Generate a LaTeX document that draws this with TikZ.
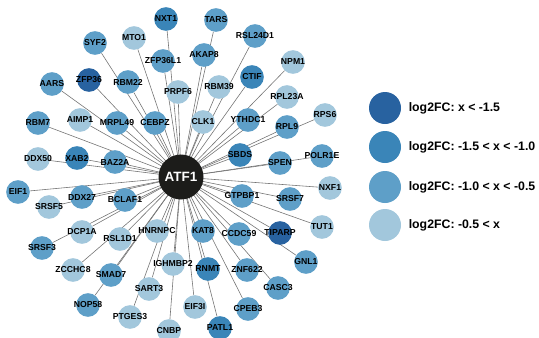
\documentclass[tikz,border=0pt]{standalone}
\usepackage{fontspec}
\setmainfont{Liberation Sans}
\usepackage{xcolor}
\usepackage{tikz}
\usetikzlibrary{positioning, backgrounds}

\definecolor{lvA}{HTML}{2862A0}
\definecolor{lvB}{HTML}{3A85B8}
\definecolor{lvC}{HTML}{5E9FC8}
\definecolor{lvD}{HTML}{A2C7DC}
\definecolor{hubfill}{HTML}{1C1C1A}

\tikzset{
  gene/.style={circle, inner sep=0pt, minimum size=7.1mm, draw=none,
               label={[genetext]center:#1}},
  genetext/.style={inner sep=0pt, text=black,
                   font=\bfseries\fontsize{7.4}{8}\selectfont},
  hub/.style={circle, inner sep=0pt, minimum size=13.5mm, fill=hubfill,
              text=white, font=\bfseries\fontsize{11.5}{12}\selectfont},
  legdot/.style={circle, inner sep=0pt, minimum size=9.6mm},
  legtext/.style={inner sep=0pt, anchor=west,
                  font=\bfseries\fontsize{10.5}{12}\selectfont},
  spoke/.style={draw=black!55, line width=0.5pt},
}

\begin{document}
\begin{tikzpicture}[x=0.03cm, y=-0.03cm]
  \useasboundingbox (0,0) rectangle (539,337);

  % centre
  \node[hub] (ATF1) at (181,177) {ATF1};

  % top
  \node[gene=NXT1, fill=lvB] (NXT1) at (166,19) {};
  \node[gene=TARS, fill=lvC] (TARS) at (216,20) {};
  \node[gene=SYF2, fill=lvC] (SYF2) at (95,43) {};
  \node[gene=MTO1, fill=lvD] (MTO1) at (134,38) {};
  \node[gene=RSL24D1, fill=lvC] (RSL24D1) at (255,36) {};
  \node[gene=AKAP8, fill=lvC] (AKAP8) at (204,55) {};
  \node[gene=ZFP36L1, fill=lvC] (ZFP36L1) at (163,61) {};
  \node[gene=NPM1, fill=lvD] (NPM1) at (293,62) {};
  \node[gene=CTIF, fill=lvB] (CTIF) at (252,77) {};
  \node[gene=AARS, fill=lvC] (AARS) at (52,84) {};
  \node[gene=ZFP36, fill=lvA] (ZFP36) at (89,80) {};
  \node[gene=RBM22, fill=lvC] (RBM22) at (128,82) {};
  \node[gene=PRPF6, fill=lvD] (PRPF6) at (178,92) {};
  \node[gene=RBM39, fill=lvD] (RBM39) at (219,87) {};
  \node[gene=RPL23A, fill=lvD] (RPL23A) at (287,97) {};
  \node[gene=RPS6, fill=lvD] (RPS6) at (325,115) {};

  % middle band
  \node[gene=RBM7, fill=lvC] (RBM7) at (38,123) {};
  \node[gene=AIMP1, fill=lvD] (AIMP1) at (80,120) {};
  \node[gene=MRPL49, fill=lvC] (MRPL49) at (117,123) {};
  \node[gene=CEBPZ, fill=lvC] (CEBPZ) at (155,123) {};
  \node[gene=CLK1, fill=lvD] (CLK1) at (203,122) {};
  \node[gene=YTHDC1, fill=lvC] (YTHDC1) at (248,120) {};
  \node[gene=RPL9, fill=lvC] (RPL9) at (287,127) {};
  \node[gene=DDX50, fill=lvD] (DDX50) at (38,159) {};
  \node[gene=XAB2, fill=lvB] (XAB2) at (77,158) {};
  \node[gene=BAZ2A, fill=lvC] (BAZ2A) at (115,162) {};
  \node[gene=SBDS, fill=lvB] (SBDS) at (240,155) {};
  \node[gene=SPEN, fill=lvC] (SPEN) at (280,163) {};
  \node[gene=POLR1E, fill=lvC] (POLR1E) at (322,156) {};
  \node[gene=EIF1, fill=lvC] (EIF1) at (18,192) {};
  \node[gene=DDX27, fill=lvC] (DDX27) at (82,197) {};
  \node[gene=SRSF5, fill=lvD] (SRSF5) at (49,207) {};
  \node[gene=BCLAF1, fill=lvC] (BCLAF1) at (125,200) {};
  \node[gene=GTPBP1, fill=lvC] (GTPBP1) at (242,196) {};
  \node[gene=SRSF7, fill=lvC] (SRSF7) at (290,199) {};
  \node[gene=NXF1, fill=lvD] (NXF1) at (330,188) {};
  \node[gene=TUT1, fill=lvD] (TUT1) at (322,227) {};

  % bottom
  \node[gene=DCP1A, fill=lvD] (DCP1A) at (82,232) {};
  \node[gene=HNRNPC, fill=lvD] (HNRNPC) at (157,231) {};
  \node[gene=RSL1D1, fill=lvD] (RSL1D1) at (120,239) {};
  \node[gene=KAT8, fill=lvC] (KAT8) at (203,231) {};
  \node[gene=CCDC59, fill=lvC] (CCDC59) at (239,234) {};
  \node[gene=TIPARP, fill=lvA] (TIPARP) at (280,233) {};
  \node[gene=SRSF3, fill=lvC] (SRSF3) at (42,248) {};
  \node[gene=ZCCHC8, fill=lvD] (ZCCHC8) at (73,270) {};
  \node[gene=SMAD7, fill=lvC] (SMAD7) at (111,275) {};
  \node[gene=IGHMBP2, fill=lvD] (IGHMBP2) at (173,264) {};
  \node[gene=RNMT, fill=lvB] (RNMT) at (208,269) {};
  \node[gene=ZNF622, fill=lvC] (ZNF622) at (247,270) {};
  \node[gene=GNL1, fill=lvC] (GNL1) at (306,262) {};
  \node[gene=SART3, fill=lvD] (SART3) at (149,289) {};
  \node[gene=NOP58, fill=lvC] (NOP58) at (88,305) {};
  \node[gene=CASC3, fill=lvC] (CASC3) at (278,288) {};
  \node[gene=PTGES3, fill=lvD] (PTGES3) at (130,317) {};
  \node[gene=EIF3I, fill=lvD] (EIF3I) at (195,307) {};
  \node[gene=CPEB3, fill=lvC] (CPEB3) at (248,309) {};
  \node[gene=CNBP, fill=lvD] (CNBP) at (169,331) {};
  \node[gene=PATL1, fill=lvB] (PATL1) at (220,328) {};

  % spokes, kept under the circles
  \begin{scope}[on background layer]
    \draw[spoke] (ATF1.center) -- (NXT1);
    \draw[spoke] (ATF1.center) -- (TARS);
    \draw[spoke] (ATF1.center) -- (SYF2);
    \draw[spoke] (ATF1.center) -- (MTO1);
    \draw[spoke] (ATF1.center) -- (RSL24D1);
    \draw[spoke] (ATF1.center) -- (AKAP8);
    \draw[spoke] (ATF1.center) -- (ZFP36L1);
    \draw[spoke] (ATF1.center) -- (NPM1);
    \draw[spoke] (ATF1.center) -- (CTIF);
    \draw[spoke] (ATF1.center) -- (AARS);
    \draw[spoke] (ATF1.center) -- (ZFP36);
    \draw[spoke] (ATF1.center) -- (RBM22);
    \draw[spoke] (ATF1.center) -- (PRPF6);
    \draw[spoke] (ATF1.center) -- (RBM39);
    \draw[spoke] (ATF1.center) -- (RPL23A);
    \draw[spoke] (ATF1.center) -- (RPS6);
    \draw[spoke] (ATF1.center) -- (RBM7);
    \draw[spoke] (ATF1.center) -- (AIMP1);
    \draw[spoke] (ATF1.center) -- (MRPL49);
    \draw[spoke] (ATF1.center) -- (CEBPZ);
    \draw[spoke] (ATF1.center) -- (CLK1);
    \draw[spoke] (ATF1.center) -- (YTHDC1);
    \draw[spoke] (ATF1.center) -- (RPL9);
    \draw[spoke] (ATF1.center) -- (DDX50);
    \draw[spoke] (ATF1.center) -- (XAB2);
    \draw[spoke] (ATF1.center) -- (BAZ2A);
    \draw[spoke] (ATF1.center) -- (SBDS);
    \draw[spoke] (ATF1.center) -- (SPEN);
    \draw[spoke] (ATF1.center) -- (POLR1E);
    \draw[spoke] (ATF1.center) -- (EIF1);
    \draw[spoke] (ATF1.center) -- (DDX27);
    \draw[spoke] (ATF1.center) -- (SRSF5);
    \draw[spoke] (ATF1.center) -- (BCLAF1);
    \draw[spoke] (ATF1.center) -- (GTPBP1);
    \draw[spoke] (ATF1.center) -- (SRSF7);
    \draw[spoke] (ATF1.center) -- (NXF1);
    \draw[spoke] (ATF1.center) -- (TUT1);
    \draw[spoke] (ATF1.center) -- (DCP1A);
    \draw[spoke] (ATF1.center) -- (HNRNPC);
    \draw[spoke] (ATF1.center) -- (RSL1D1);
    \draw[spoke] (ATF1.center) -- (KAT8);
    \draw[spoke] (ATF1.center) -- (CCDC59);
    \draw[spoke] (ATF1.center) -- (TIPARP);
    \draw[spoke] (ATF1.center) -- (SRSF3);
    \draw[spoke] (ATF1.center) -- (ZCCHC8);
    \draw[spoke] (ATF1.center) -- (SMAD7);
    \draw[spoke] (ATF1.center) -- (IGHMBP2);
    \draw[spoke] (ATF1.center) -- (RNMT);
    \draw[spoke] (ATF1.center) -- (ZNF622);
    \draw[spoke] (ATF1.center) -- (GNL1);
    \draw[spoke] (ATF1.center) -- (SART3);
    \draw[spoke] (ATF1.center) -- (NOP58);
    \draw[spoke] (ATF1.center) -- (CASC3);
    \draw[spoke] (ATF1.center) -- (PTGES3);
    \draw[spoke] (ATF1.center) -- (EIF3I);
    \draw[spoke] (ATF1.center) -- (CPEB3);
    \draw[spoke] (ATF1.center) -- (CNBP);
    \draw[spoke] (ATF1.center) -- (PATL1);
  \end{scope}

  % legend
  \node[legdot, fill=lvA] (legA) at (385,108) {};
  \node[legdot, fill=lvB] (legB) at (385,147) {};
  \node[legdot, fill=lvC] (legC) at (385,187) {};
  \node[legdot, fill=lvD] (legD) at (385,225) {};
  \node[legtext, right=0.22cm of legA] (txtA) {log2FC: x < -1.5};
  \node[legtext, right=0.22cm of legB] (txtB) {log2FC: -1.5 < x < -1.0};
  \node[legtext, right=0.22cm of legC] (txtC) {log2FC: -1.0 < x < -0.5};
  \node[legtext, right=0.22cm of legD] (txtD) {log2FC: -0.5 < x};
\end{tikzpicture}
\end{document}
